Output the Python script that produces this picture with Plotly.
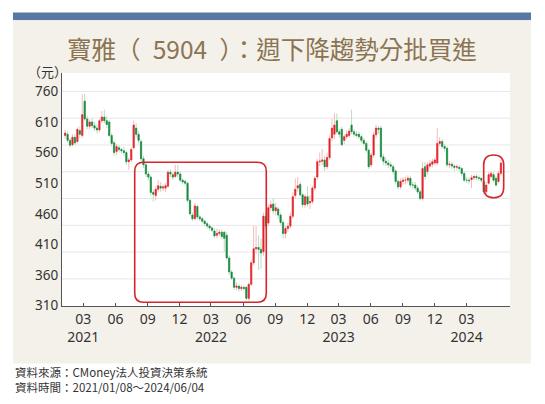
import numpy as np
import pandas as pd
import plotly.graph_objects as go

# canvas and plot area (px)
W, H = 545, 404
L, R, T, B = 62, 510, 73, 306

# weekly candles, 2021/01/08 ~ 2024/06/04
week_dates = pd.date_range("2021-01-08", periods=179, freq="7D")

opens = [588, 590, 580, 573, 585, 578, 596, 588, 644, 615, 603, 610, 604, 600, 597, 612, 618, 612, 610, 588,
         576, 562, 568, 565, 563, 560, 545, 548, 568, 600, 590, 578, 550, 540, 525, 520, 495, 490, 500, 505,
         502, 502, 505, 528, 524, 521, 528, 525, 515, 513, 510, 482, 458, 452, 472, 455, 452, 448, 444, 440,
         437, 432, 425, 428, 430, 430, 425, 388, 365, 355, 340, 342, 338, 340, 340, 322, 345, 380, 403, 405,
         402, 398, 456, 445, 470, 476, 465, 468, 458, 446, 428, 436, 440, 456, 490, 502, 508, 491, 475, 488,
         478, 480, 502, 520, 545, 546, 548, 537, 552, 584, 590, 612, 594, 598, 580, 586, 588, 605, 594, 590,
         590, 586, 580, 575, 564, 540, 556, 589, 600, 600, 553, 546, 543, 540, 537, 530, 513, 504, 513, 515,
         515, 518, 507, 507, 502, 496, 485, 537, 529, 538, 541, 543, 543, 575, 578, 570, 567, 540, 541, 538,
         536, 536, 534, 526, 515, 515, 516, 519, 521, 519, 518, 513, 496, 510, 521, 524, 518, 513, 526]
highs = [597, 595, 584, 590, 590, 601, 603, 655, 656, 620, 614, 616, 610, 606, 615, 628, 630, 620, 613, 592,
         580, 574, 572, 568, 570, 563, 552, 568, 612, 608, 595, 582, 555, 543, 530, 523, 500, 505, 515, 512,
         508, 510, 532, 533, 528, 540, 540, 530, 518, 515, 512, 485, 462, 478, 475, 458, 455, 451, 447, 443,
         440, 436, 436, 435, 434, 432, 430, 392, 368, 358, 348, 345, 344, 343, 342, 348, 385, 440, 440, 425,
         420, 462, 462, 475, 482, 485, 478, 472, 462, 450, 440, 445, 462, 495, 518, 520, 512, 494, 492, 505,
         490, 506, 522, 550, 560, 566, 555, 560, 588, 615, 624, 624, 598, 602, 590, 596, 600, 630, 598, 595,
         594, 590, 584, 578, 567, 560, 594, 606, 604, 604, 558, 552, 548, 545, 541, 533, 516, 518, 520, 521,
         523, 522, 512, 512, 506, 500, 545, 545, 544, 548, 550, 552, 600, 585, 582, 574, 570, 546, 545, 542,
         541, 540, 537, 530, 520, 519, 524, 524, 525, 523, 520, 515, 512, 528, 530, 528, 522, 530, 548]
lows = [583, 576, 568, 570, 572, 575, 584, 584, 612, 598, 598, 600, 595, 591, 593, 608, 608, 600, 585, 570,
        555, 556, 560, 558, 555, 540, 532, 545, 565, 585, 575, 545, 535, 520, 515, 490, 480, 482, 495, 496,
        497, 495, 503, 520, 515, 518, 520, 512, 508, 506, 478, 457, 448, 450, 450, 448, 445, 440, 436, 433,
        430, 420, 420, 424, 418, 398, 385, 360, 352, 336, 335, 333, 334, 335, 318, 318, 342, 376, 395, 368,
        370, 392, 435, 440, 465, 460, 458, 452, 442, 420, 420, 430, 436, 452, 485, 496, 488, 470, 470, 472,
        468, 476, 498, 516, 538, 540, 530, 533, 548, 578, 582, 590, 584, 570, 574, 582, 584, 590, 586, 585,
        582, 576, 571, 560, 533, 536, 552, 584, 590, 548, 540, 538, 535, 532, 524, 508, 500, 500, 508, 508,
        510, 503, 500, 498, 492, 482, 482, 516, 524, 534, 536, 540, 540, 570, 566, 562, 536, 535, 533, 530,
        531, 530, 522, 512, 510, 508, 502, 515, 515, 514, 511, 492, 493, 508, 518, 512, 504, 510, 522]
closes = [592, 580, 572, 585, 576, 598, 590, 622, 615, 603, 610, 604, 600, 597, 612, 618, 612, 606, 588, 575,
          560, 570, 565, 563, 560, 545, 548, 565, 605, 590, 580, 550, 540, 525, 520, 495, 492, 500, 506, 502,
          504, 506, 528, 525, 520, 528, 525, 515, 512, 510, 482, 460, 452, 473, 455, 452, 448, 444, 440, 437,
          433, 424, 428, 430, 423, 420, 388, 365, 355, 340, 342, 338, 340, 338, 322, 345, 380, 403, 405, 402,
          396, 456, 440, 470, 475, 465, 470, 458, 446, 428, 436, 440, 456, 488, 500, 506, 491, 475, 488, 476,
          480, 502, 518, 545, 546, 548, 537, 552, 583, 600, 605, 594, 590, 573, 586, 590, 595, 594, 590, 588,
          586, 580, 575, 564, 537, 556, 589, 600, 598, 553, 546, 543, 540, 538, 529, 513, 504, 513, 515, 515,
          518, 507, 507, 502, 496, 485, 534, 521, 540, 542, 545, 548, 575, 578, 570, 567, 540, 541, 538, 536,
          537, 534, 526, 515, 515, 514, 519, 521, 519, 518, 515, 496, 507, 524, 526, 515, 507, 526, 543]

y_tickvals = [310, 360, 410, 460, 510, 560, 610, 660]
y_ticktext = ["310", "360", "410", "460", "510", "560", "610", "760"]
y_range = [309.5, 690]

x_tickvals = ["2021-03-01", "2021-06-01", "2021-09-01", "2021-12-01",
              "2022-03-01", "2022-06-01", "2022-09-01", "2022-12-01",
              "2023-03-01", "2023-06-01", "2023-09-01", "2023-12-01", "2024-03-01"]
x_ticktext = ["03<br>2021", "06", "09", "12", "03<br>2022", "06", "09", "12",
              "03<br>2023", "06", "09", "12", "03<br>2024"]
x_range = ["2020-12-30", "2024-07-03"]

UP, DOWN = "#e4232b", "#158a3e"
UP_WICK, DOWN_WICK = "#f3bcbc", "#bcdcc4"
TXT = "#333333"
CJK = "Noto Sans CJK TC"


def px_x(x):
    return (x - L) / (R - L)


def px_y(y):
    return (B - y) / (B - T)


def rounded(x0, y0, x1, y1, r):
    # rounded rectangle in px -> svg path in paper coords
    pts = [("M", x0 + r, y0), ("L", x1 - r, y0), ("Q", x1, y0, x1, y0 + r),
           ("L", x1, y1 - r), ("Q", x1, y1, x1 - r, y1), ("L", x0 + r, y1),
           ("Q", x0, y1, x0, y1 - r), ("L", x0, y0 + r), ("Q", x0, y0, x0 + r, y0)]
    s = ""
    for p in pts:
        nums = p[1:]
        coords = []
        for i in range(0, len(nums), 2):
            coords.append(f"{px_x(nums[i]):.4f},{px_y(nums[i + 1]):.4f}")
        s += p[0] + " " + " ".join(coords) + " "
    return s + "Z"


fig = go.Figure()

# pale wicks
fig.add_trace(go.Candlestick(
    x=week_dates, open=opens, high=highs, low=lows, close=closes,
    increasing=dict(line=dict(color=UP_WICK, width=1), fillcolor=UP_WICK),
    decreasing=dict(line=dict(color=DOWN_WICK, width=1), fillcolor=DOWN_WICK),
    whiskerwidth=0, hoverinfo="skip", showlegend=False))

# solid bodies
body_hi = np.maximum(opens, closes)
body_lo = np.minimum(opens, closes)
fig.add_trace(go.Candlestick(
    x=week_dates, open=opens, high=body_hi, low=body_lo, close=closes,
    increasing=dict(line=dict(color=UP, width=0.6), fillcolor=UP),
    decreasing=dict(line=dict(color=DOWN, width=0.6), fillcolor=DOWN),
    whiskerwidth=0, hoverinfo="skip", showlegend=False))

shapes = [
    # top blue strip and beige panel
    dict(type="rect", xref="paper", yref="paper", layer="below",
         x0=px_x(13), x1=px_x(531), y0=px_y(12.5), y1=px_y(20.2),
         fillcolor="#5a76a3", line_width=0),
    dict(type="rect", xref="paper", yref="paper", layer="below",
         x0=px_x(13), x1=px_x(531), y0=px_y(20.2), y1=px_y(363.5),
         fillcolor="#f4f1ea", line_width=0),
    dict(type="rect", xref="paper", yref="paper", layer="below",
         x0=0, x1=1, y0=0, y1=1, fillcolor="white", line_width=0),
]

# grid: 8 equal bands between the axis and the top label
grid_top = y_tickvals[-1]
for i in range(1, 9):
    gv = y_tickvals[0] + (grid_top - y_tickvals[0]) * i / 8
    shapes.append(dict(type="line", xref="paper", yref="y", layer="below",
                       x0=0, x1=1, y0=gv, y1=gv,
                       line=dict(color="#e6e6e6", width=1)))

# red highlight frames
shapes.append(dict(type="path", xref="paper", yref="paper",
                   path=rounded(134.7, 162.3, 266.3, 302.3, 9),
                   line=dict(color="#d7252b", width=1.6)))
shapes.append(dict(type="path", xref="paper", yref="paper",
                   path=rounded(483.7, 155, 503.7, 197.7, 10),
                   line=dict(color="#d7252b", width=1.6)))

annotations = [
    dict(text="寶雅（\u20025904\u2002）：週下降趨勢分批買進", x=px_x(272), y=px_y(48),
         xref="paper", yref="paper", showarrow=False, xanchor="center", yanchor="middle",
         font=dict(family=CJK, size=24.5, color="#8b7452")),
    dict(text="（元）", x=px_x(47), y=px_y(72), xref="paper", yref="paper",
         showarrow=False, xanchor="center", yanchor="middle",
         font=dict(family=CJK, size=13, color=TXT)),
    dict(text="資料來源：CMoney法人投資決策系統<br>資料時間：2021/01/08～2024/06/04",
         x=px_x(13), y=px_y(379), xref="paper", yref="paper", showarrow=False,
         xanchor="left", yanchor="middle", align="left",
         font=dict(family=CJK, size=11.5, color=TXT)),
]

fig.update_layout(
    width=W, height=H,
    margin=dict(l=L, r=W - R, t=T, b=H - B, pad=0),
    paper_bgcolor="white", plot_bgcolor="rgba(0,0,0,0)",
    shapes=shapes, annotations=annotations,
    showlegend=False,
    xaxis=dict(type="date", range=x_range, tickvals=x_tickvals, ticktext=x_ticktext,
               ticks="inside", ticklen=3, tickcolor="#555", showline=True,
               linecolor="#555", linewidth=1.2, showgrid=False, zeroline=False,
               rangeslider=dict(visible=False),
               tickfont=dict(family="Noto Sans", size=14, color=TXT)),
    yaxis=dict(range=y_range, tickvals=y_tickvals, ticktext=y_ticktext,
               ticks="", showline=True, linecolor="#555", linewidth=1.2,
               showgrid=False, zeroline=False,
               tickfont=dict(family="Noto Sans", size=13.5, color=TXT)),
)

fig.write_html("out.html", config={"displayModeBar": False},
               post_script="document.body.style.margin='0px';")
